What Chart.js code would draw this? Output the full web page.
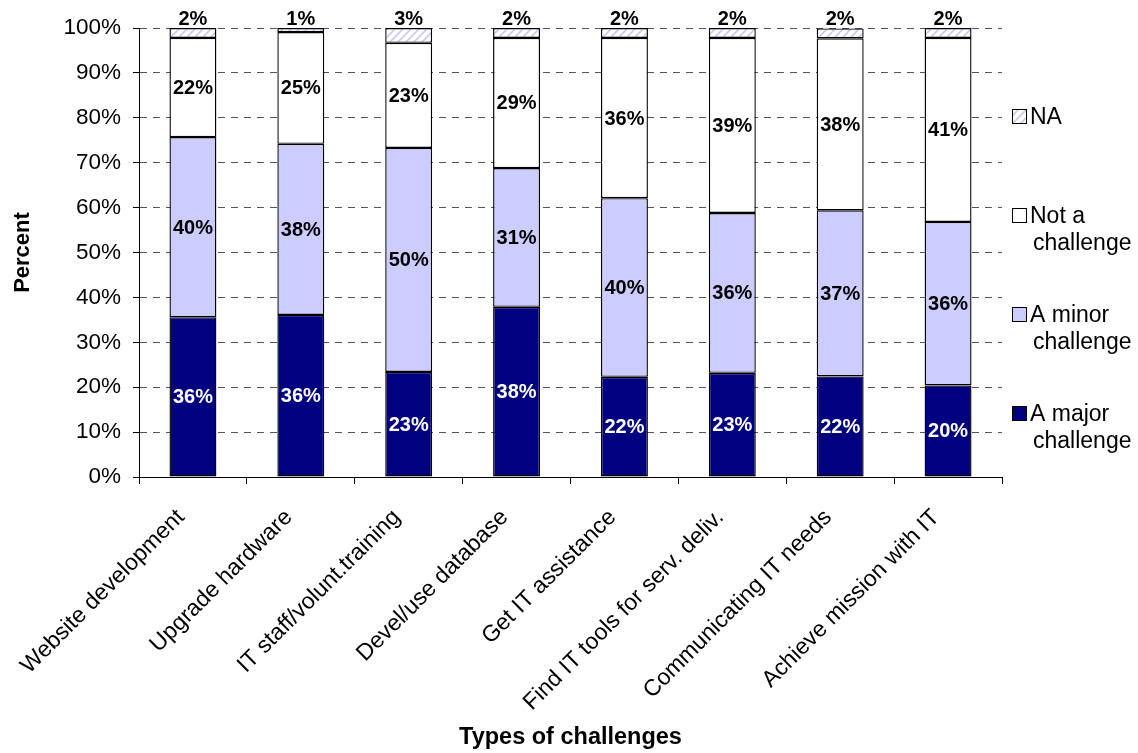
<!DOCTYPE html>
<html><head><meta charset="utf-8">
<script src="https://cdn.jsdelivr.net/npm/chart.js@4.4.0/dist/chart.umd.min.js"></script>
<style>html,body{margin:0;padding:0;background:#fff}#wrap{width:1138px;height:753px;position:relative}</style>
</head><body><div id="wrap"><canvas id="c" width="1138" height="753"></canvas></div>
<script>
const categories = ["Website development","Upgrade hardware","IT staff/volunt.training","Devel/use database","Get IT assistance","Find IT tools for serv. deliv.","Communicating IT needs","Achieve mission with IT"];
const majorChallenge = [35.6, 36.1, 23.4, 37.9, 22.3, 23.2, 22.4, 20.4];
const minorChallenge = [40.1, 38.1, 49.9, 30.9, 39.8, 35.6, 37.0, 36.4];
const notChallenge   = [22.1, 24.9, 23.4, 29.0, 35.7, 39.0, 38.3, 41.0];
const naValues       = [2.2, 0.9, 3.3, 2.2, 2.2, 2.2, 2.2, 2.2];
const seriesNames = ["A major challenge","A minor challenge","Not a challenge","NA"];
const legendLines = [["A major","challenge"],["A minor","challenge"],["Not a","challenge"],["NA"]];
const yTicks = [0,10,20,30,40,50,60,70,80,90,100];

const FONT = "'Liberation Sans', Arial, sans-serif";

function makePattern(){
  const p = document.createElement('canvas'); p.width = 8; p.height = 8;
  const g = p.getContext('2d');
  g.fillStyle = '#fff'; g.fillRect(0,0,8,8);
  g.strokeStyle = '#c8c8f4'; g.lineWidth = 1.6;
  g.beginPath();
  g.moveTo(0,8); g.lineTo(8,0);
  g.moveTo(-2,2); g.lineTo(2,-2);
  g.moveTo(6,10); g.lineTo(10,6);
  g.stroke();
  return document.getElementById('c').getContext('2d').createPattern(p,'repeat');
}
const naPattern = makePattern();
const fills = ['#000080', '#ccccff', '#ffffff', naPattern];

const labelPlugin = {
  id: 'segLabels',
  afterDatasetsDraw(chart){
    const ctx = chart.ctx;
    ctx.save();
    ctx.font = 'bold 20px ' + FONT;
    ctx.textAlign = 'center';
    ctx.textBaseline = 'middle';
    chart.data.datasets.forEach((ds, di) => {
      const meta = chart.getDatasetMeta(di);
      meta.data.forEach((bar, i) => {
        const v = ds.data[i];
        const txt = Math.round(v) + '%';
        if (di === 3) {
          ctx.fillStyle = '#000';
          ctx.fillText(txt, bar.x, chart.scales.y.getPixelForValue(100) - 9);
        } else {
          ctx.fillStyle = di === 0 ? '#fff' : '#000';
          ctx.fillText(txt, bar.x, (bar.y + bar.base) / 2 + 1);
        }
      });
    });
    ctx.restore();
  }
};

const legendPlugin = {
  id: 'sideLegend',
  afterDraw(chart){
    const ctx = chart.ctx;
    ctx.save();
    ctx.font = '23px ' + FONT;
    ctx.textBaseline = 'middle';
    ctx.textAlign = 'left';
    const tops = [413, 314, 215, 116];
    for (let k = 3; k >= 0; k--) {
      const y = tops[k];
      ctx.fillStyle = fills[k];
      ctx.fillRect(1012, y - 7, 14, 14);
      ctx.strokeStyle = '#000'; ctx.lineWidth = 1;
      ctx.strokeRect(1012.5, y - 6.5, 14, 14);
      ctx.fillStyle = '#000';
      legendLines[k].forEach((ln, j) => {
        ctx.fillText(ln, j === 0 ? 1030 : 1033, y + 2 + j * 27);
      });
    }
    ctx.restore();
  }
};

const datasets = [majorChallenge, minorChallenge, notChallenge, naValues].map((d, i) => ({
  label: seriesNames[i],
  data: d,
  backgroundColor: fills[i],
  borderColor: '#000',
  borderWidth: 1.4,
  borderSkipped: false,
  barPercentage: 0.87,
  categoryPercentage: 0.5
}));

new Chart(document.getElementById('c'), {
  type: 'bar',
  data: { labels: categories, datasets },
  plugins: [labelPlugin, legendPlugin],
  options: {
    responsive: false,
    animation: false,
    events: [],
    layout: { padding: { top: 28, right: 136, left: 0, bottom: 0 } },
    plugins: { legend: { display: false }, tooltip: { enabled: false } },
    scales: {
      x: {
        stacked: true,
        afterFit(s){ s.height = 276; },
        border: { display: true, color: '#000', width: 1 },
        grid: { offset: true, drawOnChartArea: false, drawTicks: true, tickLength: 7, tickColor: '#000' },
        ticks: { color: '#000', font: { family: FONT, size: 23 }, minRotation: 45, maxRotation: 45, padding: 20, labelOffset: -12 },
        title: { display: true, text: 'Types of challenges', color: '#000', font: { family: FONT, size: 23.5, weight: 'bold' }, padding: { top: 0, bottom: 1 } }
      },
      y: {
        stacked: true,
        min: 0, max: 100,
        afterFit(s){ s.width = 139; },
        afterBuildTicks(s){ s.ticks = yTicks.map(v => ({ value: v })); },
        border: { display: true, color: '#000', width: 1, dash: [7, 6] },
        grid: { color: '#555', lineWidth: 1, tickBorderDash: [], tickColor: '#000', tickLength: 6, drawTicks: true },
        ticks: { color: '#000', font: { family: FONT, size: 22.5 }, padding: 12, callback: v => v + '%' },
        title: { display: true, text: 'Percent', color: '#000', font: { family: FONT, size: 22, weight: 'bold' }, padding: { top: 10, bottom: 0 } }
      }
    }
  }
});
</script></body></html>
